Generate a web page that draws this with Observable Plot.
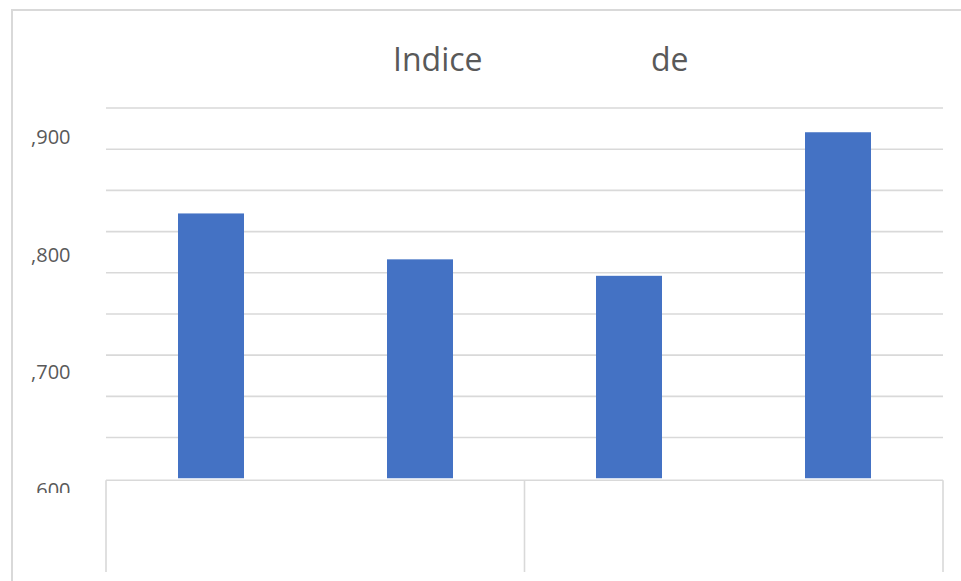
<!DOCTYPE html>
<html><head><meta charset="utf-8">
<script src="https://cdn.jsdelivr.net/npm/d3@7"></script>
<script src="https://cdn.jsdelivr.net/npm/@observablehq/plot@0.6"></script>
<style>
html,body{margin:0;padding:0;background:#fff;overflow:hidden}
#wrap{position:relative;width:961px;height:581px}
.t{position:absolute;top:43px;font-family:"Open Sans";font-size:32px;line-height:32px;color:#595959;white-space:pre}
</style></head><body>
<div id="wrap"></div>
<script>
const categories = ["c1", "c2", "c3", "c4"];
const groups = ["g1", "g1", "g2", "g2"];
const values = [0.835, 0.796, 0.782, 0.904];
const titleWords = ["Indice", "de"];
const yTickValues = [0.6, 0.7, 0.8, 0.9];
const yTickLabels = [",600", ",700", ",800", ",900"];
const gridValues = [0.645, 0.68, 0.715, 0.75, 0.785, 0.82, 0.855, 0.89, 0.925];
const axisMin = 0.61;

const data = categories.map((c, i) => ({cat: c, group: groups[i], value: values[i]}));

const chart = Plot.plot({
  width: 961, height: 581,
  marginLeft: 106, marginRight: 18, marginTop: 100, marginBottom: 89,
  style: {background: "transparent", fontFamily: "Open Sans"},
  x: {domain: categories, paddingInner: 0.6846, paddingOuter: 0.3423, axis: null},
  y: {domain: [0.6, 0.9314], range: [490, 100]},
  marks: [
    Plot.ruleY(gridValues, {stroke: "#d9d9d9", strokeWidth: 1.6}),
    Plot.barY(data, {x: "cat", y1: () => axisMin, y2: "value", fill: "#4472C4"}),
    Plot.axisY(yTickValues, {
      tickSize: 0, tickPadding: 36,
      tickFormat: v => yTickLabels[yTickValues.indexOf(v)],
      fill: "#595959", fontSize: 20, fontFamily: "Open Sans", label: null
    })
  ]
});

const wrap = document.getElementById("wrap");
wrap.appendChild(chart);

// title
const titleLeft = [393, 651];
titleWords.forEach((w, i) => {
  const s = document.createElement("div");
  s.className = "t";
  s.style.left = titleLeft[i] + "px";
  s.textContent = w;
  wrap.appendChild(s);
});

const svg = d3.select(chart);
// clip the y tick labels as in the reference
svg.append("defs").append("clipPath").attr("id", "ylabclip")
  .append("rect").attr("x", 0).attr("y", 0).attr("width", 961).attr("height", 492.5);
svg.selectAll('g[aria-label="y-axis tick label"]').attr("clip-path", "url(#ylabclip)");

// multi-level category axis box
const xs = chart.scale("x");
const ys = chart.scale("y");
const [r0, r1] = xs.range;
const step = xs.step || (r1 - r0) / categories.length;
const bounds = [r0];
for (let i = 1; i < categories.length; i++) {
  if (groups[i] !== groups[i - 1]) {
    bounds.push(xs.apply(categories[i]) - (step - xs.bandwidth) / 2);
  }
}
bounds.push(r1);
const boxTop = ys.apply(axisMin) + 2;
const boxBottom = 572;
const g = svg.append("g").attr("stroke", "#d9d9d9").attr("stroke-width", 1.6).attr("fill", "none");
g.append("line").attr("x1", r0).attr("x2", r1).attr("y1", boxTop).attr("y2", boxTop);
bounds.forEach(b => {
  g.append("line").attr("x1", b).attr("x2", b).attr("y1", boxTop).attr("y2", boxBottom);
});
// chart-area border (left and top edges visible)
const b2 = svg.append("g").attr("stroke", "#d9d9d9").attr("stroke-width", 2).attr("fill", "none");
b2.append("line").attr("x1", 12).attr("x2", 12).attr("y1", 9).attr("y2", 581);
b2.append("line").attr("x1", 11).attr("x2", 961).attr("y1", 10).attr("y2", 10);
</script>
</body></html>
